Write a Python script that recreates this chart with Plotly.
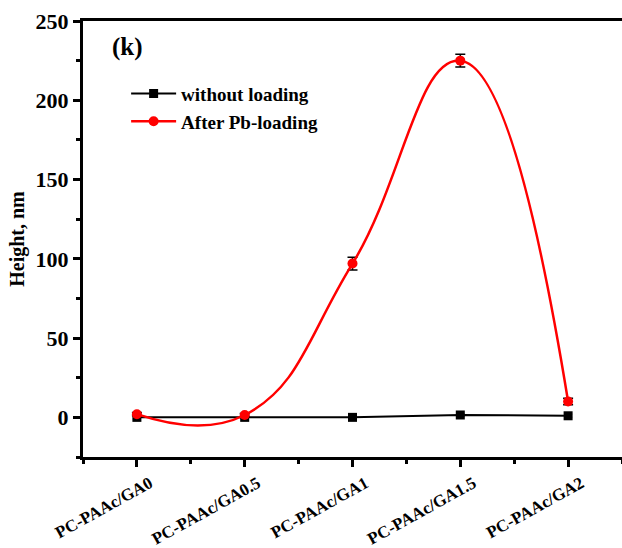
import plotly.graph_objects as go

categories = ["PC-PAAc/GA0", "PC-PAAc/GA0.5", "PC-PAAc/GA1", "PC-PAAc/GA1.5", "PC-PAAc/GA2"]
without_loading = [0, 0, 0, 1.5, 1]
without_err = [1, 1, 1, 1, 1]
after_pb = [2, 1.5, 97, 225, 10]
after_err = [1, 1, 4, 4, 2]
y_ticks = [0, 50, 100, 150, 200, 250]

x = list(range(len(categories)))
font_fam = "Liberation Serif"

fig = go.Figure()
fig.add_trace(go.Scatter(
    x=x, y=without_loading, name="without loading", mode="lines+markers",
    line=dict(color="black", width=2),
    marker=dict(symbol="square", size=9, color="black"),
    error_y=dict(type="data", array=without_err, color="black", thickness=1.5, width=4),
))
fig.add_trace(go.Scatter(
    x=x, y=after_pb, name="After Pb-loading", mode="lines+markers",
    line=dict(color="#ff0000", width=2.5, shape="spline", smoothing=1.3),
    marker=dict(symbol="circle", size=10, color="#ff0000"),
    error_y=dict(type="data", array=after_err, color="black", thickness=1.5, width=5),
))

fig.add_annotation(x=0.05, y=0.94, xref="paper", yref="paper", text="(k)",
                   showarrow=False, font=dict(family=font_fam, size=25, color="black", weight="bold"),
                   xanchor="left", yanchor="middle")

fig.update_layout(
    width=622, height=548,
    margin=dict(l=83, r=0, t=21, b=91),
    plot_bgcolor="white", paper_bgcolor="white",
    font=dict(family=font_fam, color="black"),
    showlegend=True,
    legend=dict(x=0.08, y=0.877, xanchor="left", yanchor="top",
                bgcolor="rgba(0,0,0,0)",
                font=dict(family=font_fam, size=19, color="black", weight="bold"),
                itemwidth=45, tracegroupgap=0),
    xaxis=dict(
        range=[-0.5, 4.5], tickmode="array", tickvals=x,
        ticktext=categories, automargin=False,
        tickangle=-29, tickfont=dict(family=font_fam, size=17, color="black", weight="bold"),
        ticklabelshift=13, ticklabelstandoff=0,
        showline=True, linecolor="black", linewidth=3, mirror=True,
        ticks="outside", ticklen=7, tickwidth=2.5, tickcolor="black",
        minor=dict(tick0=0, dtick=0.5, ticks="outside", ticklen=4, tickwidth=2.5, tickcolor="black"),
        showgrid=False, zeroline=False,
    ),
    yaxis=dict(
        range=[-25, 250], tickmode="array", tickvals=y_ticks,
        ticktext=[str(v) for v in y_ticks], automargin=False,
        tickfont=dict(family=font_fam, size=22, color="black", weight="bold"),
        title=dict(text="Height, nm", font=dict(family=font_fam, size=20, color="black", weight="bold"), standoff=6),
        showline=True, linecolor="black", linewidth=3, mirror=True,
        ticks="outside", ticklen=7, tickwidth=2.5, tickcolor="black",
        minor=dict(tick0=0, dtick=25, ticks="outside", ticklen=4, tickwidth=2.5, tickcolor="black"),
        showgrid=False, zeroline=False,
    ),
)

fig.write_html("out.html")
